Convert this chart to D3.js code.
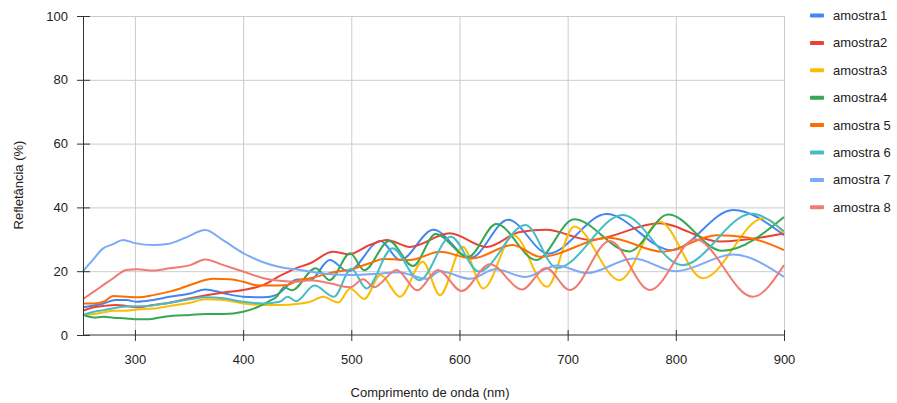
<!DOCTYPE html>
<html>
<head>
<meta charset="utf-8">
<script src="https://cdn.jsdelivr.net/npm/d3@7"></script>
<style>
  body { margin: 0; background: #fff; }
  svg { display: block; font-family: Arial, "Liberation Sans", sans-serif; }
</style>
</head>
<body>
<div id="chart"></div>
<script>
/* Data: [wavelength (nm), reflectance (%)] */
const seriesNames = ["amostra1", "amostra2", "amostra3", "amostra4", "amostra 5", "amostra 6", "amostra 7", "amostra 8"];
const seriesColors = ["#4285f4", "#ea4335", "#fbbc04", "#34a853", "#ff6d01", "#46bdc6", "#7baaf7", "#f07b72"];

const amostra1 = [[252,8.7],[271,9.9],[282,11],[292,11],[302,10.4],[317,11],[332,12],[351,13],[365,14.3],[382,13.1],[400,12],[419,11.8],[431,12.6],[450,17.4],[462,17.2],[480,23.5],[497,20],[527,29.5],[545,23.5],[576,33],[610,24.1],[645,36.1],[682,25.5],[736,37.9],[796,26.6],[853,39.2],[900,31.3]];
const amostra2 = [[252,7.6],[262,8.7],[271,9.1],[283,9.4],[292,9.1],[302,8.7],[317,9.4],[332,10.1],[351,11.5],[382,13.3],[400,14.1],[419,15.7],[434,18.5],[448,20.8],[462,22.5],[483,26.1],[498,25.3],[517,28.2],[533,29.8],[554,27.6],[591,31.9],[625,27.6],[656,32.3],[680,33],[721,29.8],[785,35],[841,29.3],[900,31.8]];
const amostra3 = [[252,6.3],[262,6.6],[271,7.1],[280,7.6],[292,7.6],[302,8],[317,8.3],[332,9.1],[351,10.1],[365,11.2],[382,11],[400,9.9],[419,9.4],[434,9.4],[453,9.9],[462,10.4],[474,12],[488,10.2],[499,14.6],[512,11.3],[527,18.8],[545,12],[566,23],[582,12.5],[603,27.7],[622,14.6],[650,31.3],[681,15.1],[706,34],[748,17.2],[785,35.5],[825,17.8],[881,36.6],[900,32]];
const amostra4 = [[252,6.3],[262,5.5],[271,5.7],[280,5.4],[292,5.2],[302,4.9],[313,4.9],[323,5.5],[335,6],[351,6.3],[365,6.6],[382,6.6],[400,7.3],[413,8.7],[425,10.8],[431,12],[438,15],[445,14],[467,20.9],[480,17.2],[499,25.6],[512,20.3],[535,29.5],[557,21.6],[578,31.7],[608,24.5],[634,34.8],[671,23.5],[706,36.3],[757,26.2],[793,37.8],[843,26.4],[900,37]];
const amostra5 = [[252,9.9],[262,9.9],[271,10.4],[280,12.2],[292,12],[302,11.8],[317,12.5],[332,13.6],[342,14.6],[357,16.4],[372,17.6],[388,17.5],[400,16.7],[413,15.6],[425,15.5],[440,15.6],[450,17],[462,17.8],[487,19.9],[499,20.5],[517,22.5],[530,23.8],[554,23.5],[582,26.1],[612,24],[649,28.2],[675,24.5],[738,30.5],[788,26.1],[838,31.3],[866,30.6],[900,26.6]];
const amostra6 = [[252,6.3],[262,7.3],[271,7.8],[280,8.4],[292,8.9],[311,9.1],[332,10.1],[351,11.2],[365,11.8],[382,11.5],[400,10.4],[419,9.9],[434,10.4],[441,12],[449,10.6],[466,15.5],[484,12],[500,20.8],[514,14.6],[538,27.2],[563,17.2],[592,30.8],[618,19.9],[661,34.5],[690,21],[751,37.6],[806,21.9],[870,38],[900,32.5]];
const amostra7 = [[252,20],[261,23.5],[270,27],[280,28.5],[289,29.8],[300,28.8],[317,28.2],[330,28.5],[348,30.7],[365,32.9],[381,29.8],[400,25.7],[418,22.9],[434,21.3],[453,20.4],[470,19.4],[497,18.8],[525,19.2],[543,19.7],[570,17.6],[582,20],[610,17.6],[633,20.6],[661,18.2],[690,21.8],[718,19.4],[761,24],[800,20],[853,25.2],[900,18.2]];
const amostra8 = [[252,11.3],[262,13.6],[271,15.7],[280,17.8],[292,20.4],[302,20.6],[317,20.2],[332,20.9],[351,21.9],[365,23.7],[382,21.9],[400,19.9],[419,17.8],[434,17],[450,16.7],[462,17.2],[480,16.2],[499,15],[511,17.5],[521,15],[542,20.4],[561,14],[580,20.4],[602,13.8],[628,22.2],[658,14.3],[680,21],[702,14.1],[739,29.5],[776,14.1],[818,30],[871,12],[900,21.9]];

const xTicks = [300, 400, 500, 600, 700, 800, 900];
const yTicks = [0, 20, 40, 60, 80, 100];

const allSeries = [amostra1, amostra2, amostra3, amostra4, amostra5, amostra6, amostra7, amostra8];

/* Chart size and plot area */
const width = 897, height = 403;
const margins = {top: 16, right: 113, bottom: 68, left: 83};

const svg = d3.select("#chart")
    .append("svg")
    .attr("width", width)
    .attr("height", height);

const xScale = d3.scaleLinear()
    .domain([252, 900])
    .range([margins.left, width - margins.right]);
const yScale = d3.scaleLinear()
    .domain([0, 100])
    .range([height - margins.bottom, margins.top]);

// gridlines
svg.append("g")
    .attr("transform", `translate(0,${height - margins.bottom})`)
    .call(d3.axisBottom(xScale).tickValues(xTicks).tickFormat("")
        .tickSize(-(height - margins.bottom - margins.top)))
    .call(g => g.select(".domain").remove())
    .call(g => g.selectAll("line").attr("stroke", "#cccccc"));

svg.append("g")
    .attr("transform", `translate(${margins.left},0)`)
    .call(d3.axisLeft(yScale).tickValues(yTicks.slice(1)).tickFormat("")
        .tickSize(-(width - margins.right - margins.left)))
    .call(g => g.select(".domain").remove())
    .call(g => g.selectAll("line").attr("stroke", "#cccccc"));

// lines
const line = d3.line()
    .x(d => xScale(d[0]))
    .y(d => yScale(d[1]))
    .curve(d3.curveMonotoneX);

svg.append("g")
    .selectAll("path")
    .data(allSeries)
    .join("path")
    .attr("fill", "none")
    .attr("stroke", (d, i) => seriesColors[i])
    .attr("stroke-width", 2)
    .attr("stroke-linejoin", "round")
    .attr("d", line);

// axes
const xGroup = svg.append("g")
    .attr("transform", `translate(0,${height - margins.bottom})`)
    .call(d3.axisBottom(xScale).tickValues(xTicks).tickSizeOuter(0).tickPadding(14));
xGroup.selectAll("line").attr("y1", -5).attr("y2", 6).attr("stroke", "#333");
xGroup.select(".domain").attr("stroke", "#333").attr("d", `M${margins.left},0H${width - margins.right}`);
xGroup.selectAll("text").attr("font-size", 13).attr("fill", "#222").attr("font-family", null);

const yGroup = svg.append("g")
    .attr("transform", `translate(${margins.left},0)`)
    .call(d3.axisLeft(yScale).tickValues(yTicks).tickSizeOuter(0).tickPadding(9));
yGroup.selectAll("line").attr("x1", -6).attr("x2", 7).attr("stroke", "#333");
yGroup.select(".domain").attr("stroke", "#333");
yGroup.selectAll("text").attr("font-size", 13).attr("fill", "#222").attr("font-family", null);

// axis titles
svg.append("text")
    .attr("x", 430)
    .attr("y", 397)
    .attr("text-anchor", "middle")
    .attr("font-size", 13)
    .attr("fill", "#222")
    .text("Comprimento de onda (nm)");

svg.append("text")
    .attr("transform", "translate(23,185) rotate(-90)")
    .attr("text-anchor", "middle")
    .attr("font-size", 13)
    .attr("fill", "#222")
    .text("Refletância (%)");

// legend
const legend = svg.append("g")
    .selectAll("g")
    .data(seriesNames)
    .join("g")
    .attr("transform", (d, i) => `translate(810,${15.5 + i * 27.4})`);

legend.append("rect")
    .attr("x", 0).attr("y", -2)
    .attr("width", 14).attr("height", 4)
    .attr("rx", 1)
    .attr("fill", (d, i) => seriesColors[i]);

legend.append("text")
    .attr("x", 23).attr("y", 4.5)
    .attr("font-size", 13)
    .attr("fill", "#222")
    .text(d => d);
</script>
</body>
</html>
